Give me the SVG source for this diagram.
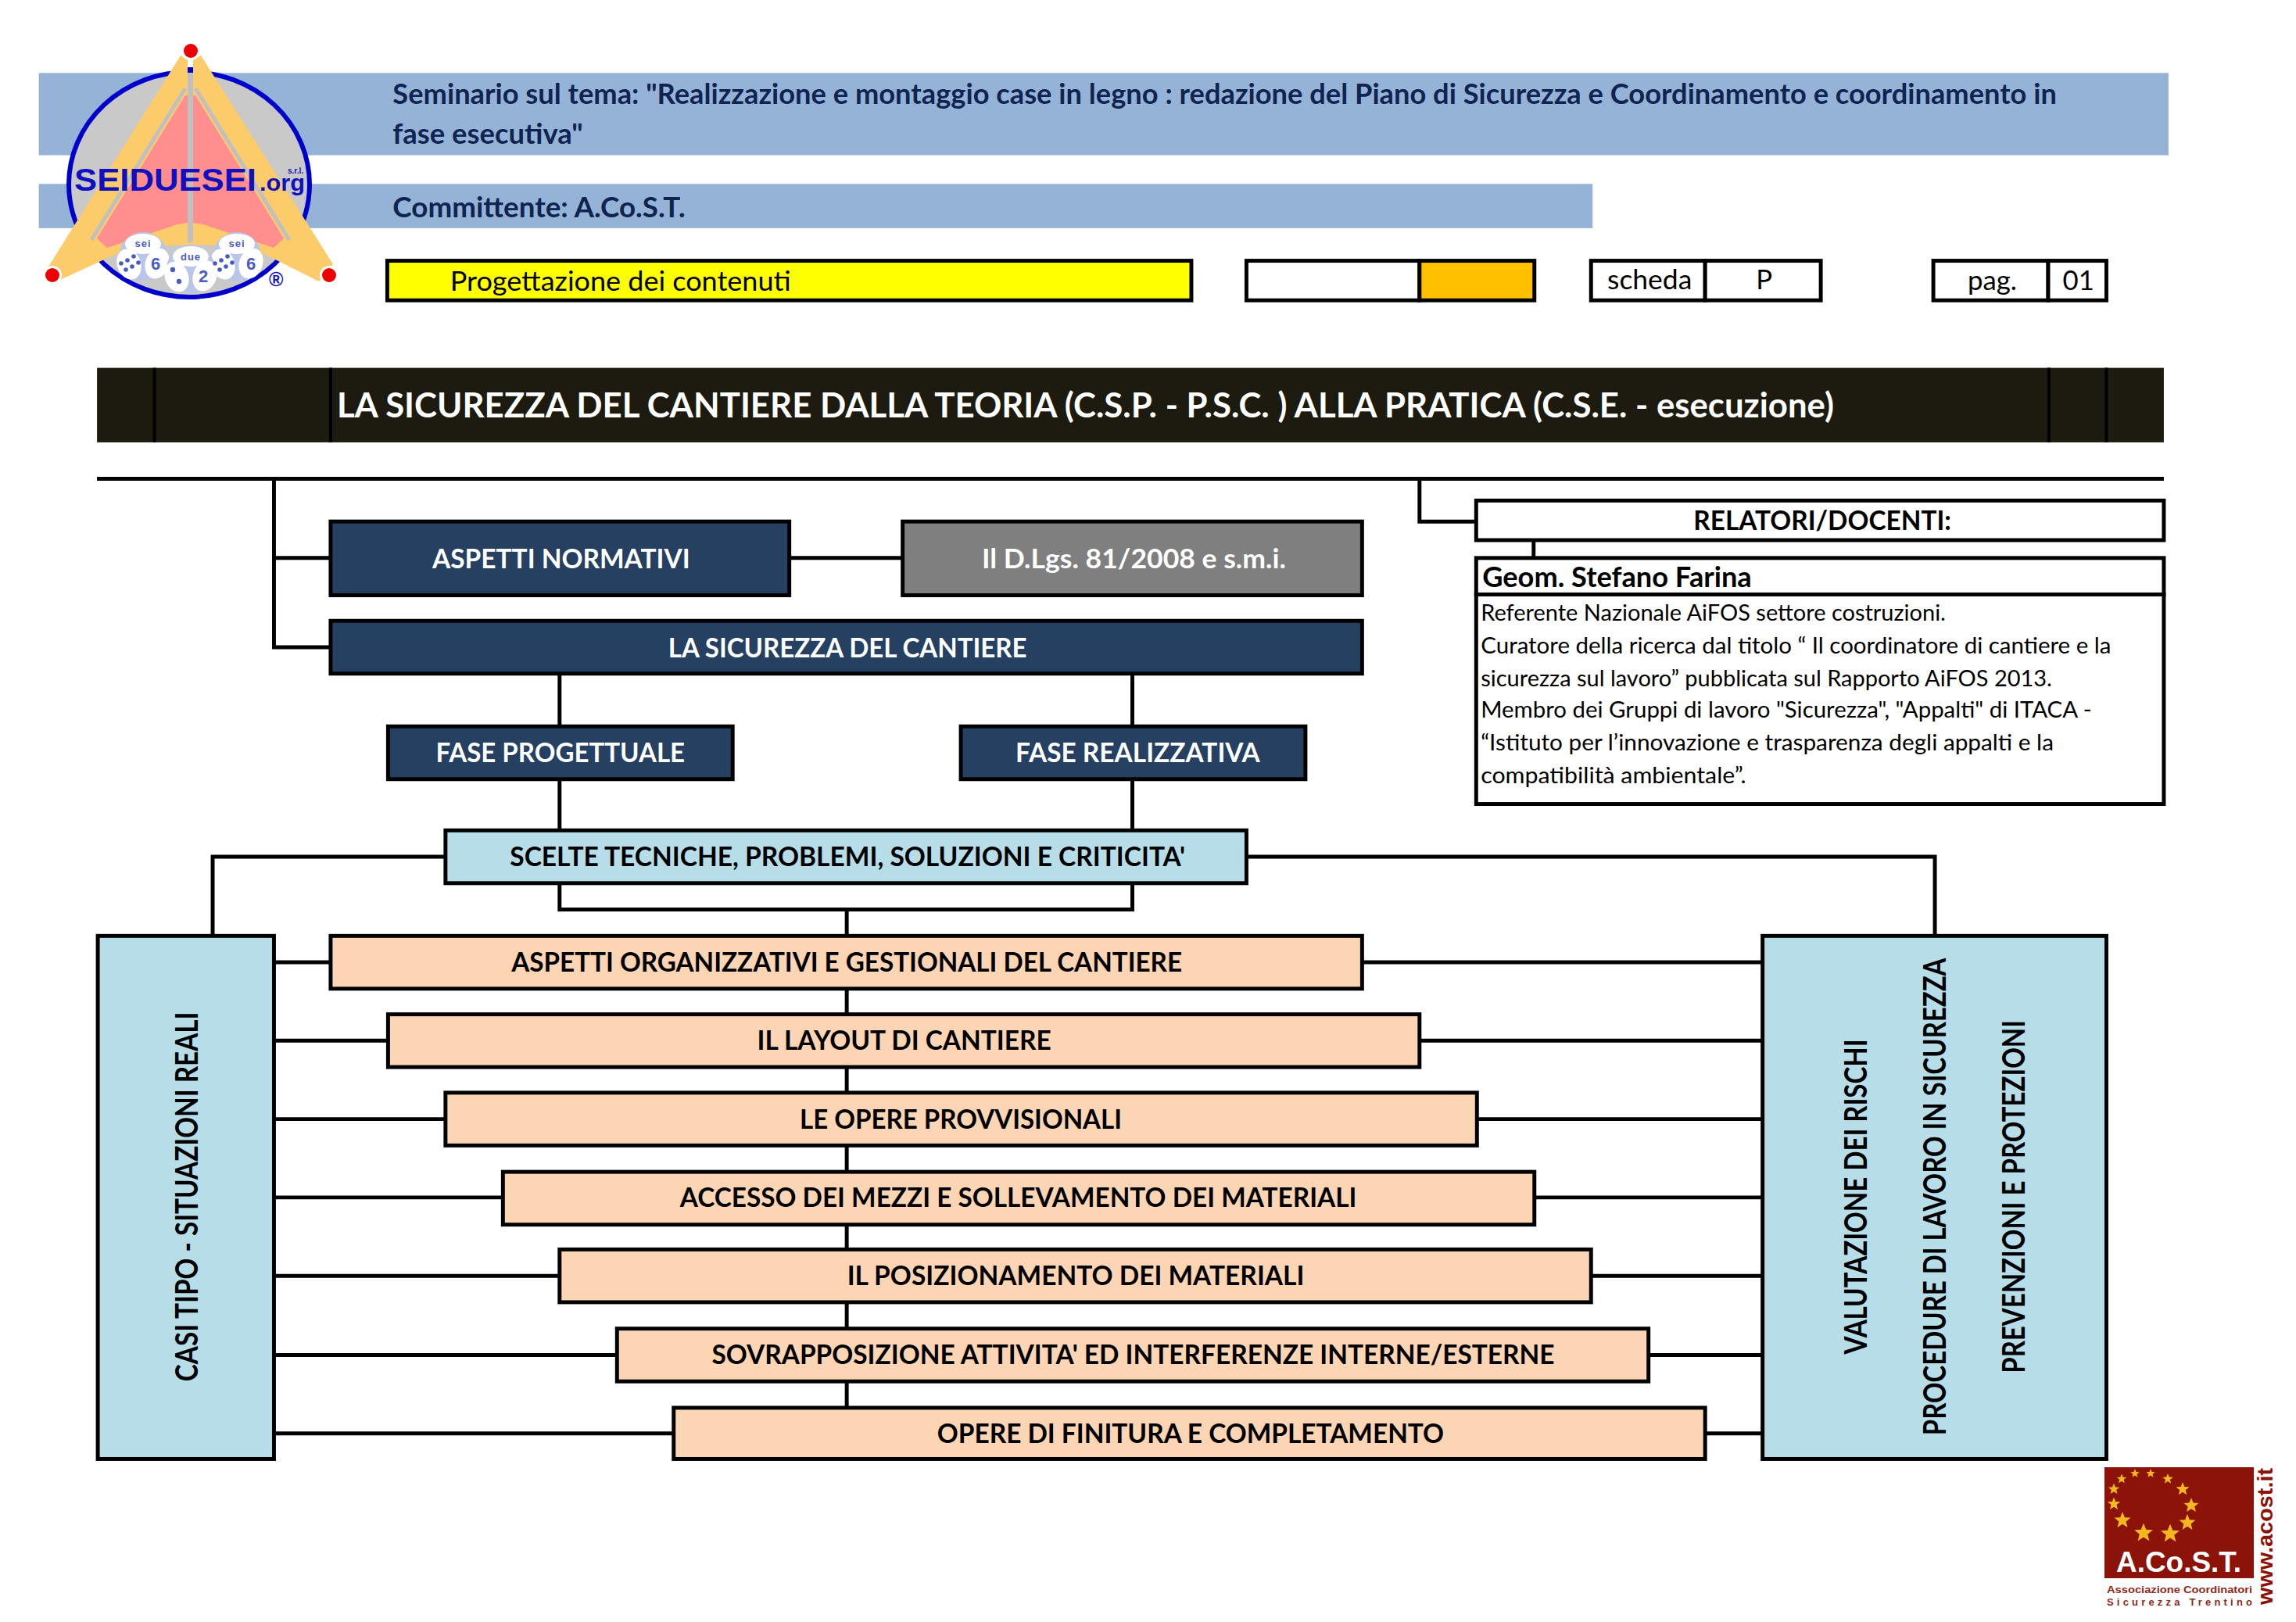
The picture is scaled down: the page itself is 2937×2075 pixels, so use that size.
<svg xmlns="http://www.w3.org/2000/svg" width="2937" height="2075" viewBox="0 0 2937 2075">
<style>
text{font-family:"Lato","Liberation Sans",sans-serif}
.b{stroke:#000;stroke-width:5}
.navy{fill:#254061}.gray{fill:#7f7f7f}.cy{fill:#b7dde8}.pe{fill:#fcd5b4}.wh{fill:#fff}
.band{fill:#95b3d7}
.t{font-size:35px;font-weight:700;text-anchor:middle}
.v{font-size:40px;font-weight:700;text-anchor:middle;fill:#000}
.w{fill:#fff}.k{fill:#000}
.h{font-size:37px;font-weight:700;fill:#0f2450}
.n{font-size:35px;fill:#000}
.p{font-size:29px;fill:#000}
.c{fill:none;stroke:#000;stroke-width:5}
.star{fill:#f5b71e}
.face{fill:#fff}
.pip{fill:#4a5cc0}
.lg{font-family:"Liberation Sans",sans-serif;font-weight:700;fill:#1010c0}
.dt{font-family:"Liberation Sans",sans-serif;font-weight:700;fill:#4a5cc0;text-anchor:middle}
.ac{font-family:"Liberation Sans",sans-serif;font-weight:700;fill:#8c2a20}
</style>
<defs>
<polygon id="st" points="0,-10 2.6,-3.4 9.5,-3.1 4.2,1.3 5.9,8.1 0,4.3 -5.9,8.1 -4.2,1.3 -9.5,-3.1 -2.6,-3.4"/>
<g id="die">
<circle cx="0" cy="16" r="31" fill="#b9c6ea"/>
<ellipse class="face" cx="0" cy="0" rx="23" ry="13"/>
<ellipse class="face" cx="-18" cy="26" rx="15" ry="20" transform="rotate(-20 -18 26)"/>
<ellipse class="face" cx="18" cy="25" rx="15" ry="20" transform="rotate(20 18 25)"/>
</g>
</defs>
<rect width="2937" height="2075" fill="#fff"/>

<g id="diagram-a" transform="scale(.9928)">
<g id="header">
<rect class="band" x="50" y="94" width="2744" height="106"/>
<rect class="band" x="50" y="237" width="2002" height="57"/>
<text class="h" x="506" y="134" textLength="2144" lengthAdjust="spacingAndGlyphs">Seminario sul tema: "Realizzazione e montaggio case in legno : redazione del Piano di Sicurezza e Coordinamento e coordinamento in</text>
<text class="h" x="506" y="185" textLength="245" lengthAdjust="spacingAndGlyphs">fase esecutiva"</text>
<text class="h" x="506" y="280" textLength="377" lengthAdjust="spacingAndGlyphs">Committente: A.Co.S.T.</text>
</g>
</g>

<g id="logo">
<ellipse cx="242" cy="236" rx="154" ry="144" fill="#c9c9c9" stroke="#0000cc" stroke-width="6"/>
<polygon points="231,71 240,77 240,110 247,110 247,77 257,71 426,338 408,360 320,316 244,313 168,316 77,358 62,341" fill="#fccb6a"/>
<path d="M237 113L117 307M250 113L370 307" stroke="#c0c0c0" stroke-width="5" fill="none"/>
<rect x="240" y="93" width="7" height="217" fill="#c0c0c0"/>
<rect x="240" y="86" width="7" height="7" fill="#0000cc"/>
<polygon points="240,122 237,122 124,305 137,317 227,287 240,285" fill="#ff8e8e"/>
<polygon points="247,122 250,122 363,305 350,317 260,287 247,285" fill="#ff8e8e"/>
<circle cx="244" cy="65" r="12" fill="#fff"/><circle cx="244" cy="65" r="9" fill="#ee0000"/>
<circle cx="67" cy="352" r="12" fill="#fff"/><circle cx="67" cy="352" r="9" fill="#ee0000"/>
<circle cx="421" cy="352" r="12" fill="#fff"/><circle cx="421" cy="352" r="9" fill="#ee0000"/>
<circle cx="244" cy="345" r="32" fill="#c9c9c9"/>
<use href="#die" x="183" y="312"/>
<use href="#die" x="303" y="312"/>
<use href="#die" x="244" y="328"/>
<g class="pip">
<circle cx="155" cy="337" r="2.8"/><circle cx="163" cy="333" r="2.8"/><circle cx="171" cy="328" r="2.8"/><circle cx="161" cy="345" r="2.8"/><circle cx="169" cy="341" r="2.8"/><circle cx="177" cy="336" r="2.8"/>
<circle cx="275" cy="337" r="2.8"/><circle cx="283" cy="333" r="2.8"/><circle cx="291" cy="328" r="2.8"/><circle cx="281" cy="345" r="2.8"/><circle cx="289" cy="341" r="2.8"/><circle cx="297" cy="336" r="2.8"/>
<circle cx="221" cy="345" r="3.2"/><circle cx="229" cy="360" r="3.2"/></g>
<text class="dt" x="183" y="316" font-size="13" letter-spacing="1">sei</text>
<text class="dt" x="303" y="316" font-size="13" letter-spacing="1">sei</text>
<text class="dt" x="244" y="333" font-size="13" letter-spacing="1">due</text>
<text class="dt" x="199" y="345" font-size="22">6</text>
<text class="dt" x="321" y="345" font-size="22">6</text>
<text class="dt" x="260" y="361" font-size="22">2</text>
<text class="lg" x="95" y="244" font-size="41" textLength="233" lengthAdjust="spacingAndGlyphs">SEIDUESEI</text>
<text class="lg" x="332" y="244" font-size="29" textLength="58" lengthAdjust="spacingAndGlyphs">.org</text>
<text class="lg" x="368" y="222" font-size="10">s.r.l.</text>
<text class="lg" x="344" y="366" font-size="25">®</text>
</g>

<g id="diagram-b" transform="scale(.9928)">
<g id="status">
<rect x="499" y="336" width="1036" height="51" fill="#ffff00" class="b"/>
<text class="n" x="580" y="375" textLength="439" lengthAdjust="spacingAndGlyphs">Progettazione dei contenuti</text>
<rect x="1606" y="336" width="223" height="51" class="wh b"/>
<rect x="1829" y="336" width="148" height="51" fill="#ffc000" class="b"/>
<rect x="2050" y="336" width="147" height="51" class="wh b"/>
<rect x="2197" y="336" width="149" height="51" class="wh b"/>
<text class="n" x="2071" y="373" textLength="109" lengthAdjust="spacingAndGlyphs">scheda</text>
<text class="n" x="2273" y="373" text-anchor="middle">P</text>
<rect x="2491" y="336" width="148" height="51" class="wh b"/>
<rect x="2639" y="336" width="75" height="51" class="wh b"/>
<text class="n" x="2567" y="374" text-anchor="middle">pag.</text>
<text class="n" x="2678" y="374" text-anchor="middle">01</text>
</g>

<g id="titlebar">
<rect x="125" y="474" width="2663" height="96" fill="#1d1b10"/>
<path d="M199 474V570M426 474V570M2640 474V570M2714 474V570" stroke="#000" stroke-width="4" fill="none"/>
<text x="434" y="538" font-size="44" font-weight="700" fill="#fff" textLength="1929" lengthAdjust="spacingAndGlyphs">LA SICUREZZA DEL CANTIERE DALLA TEORIA (C.S.P. - P.S.C. ) ALLA PRATICA (C.S.E. - esecuzione)</text>
</g>

<g id="connectors" class="c">
<path d="M125 617H2788"/>
<path d="M353 617V834H426M353 719H426"/>
<path d="M1017 719H1163"/>
<path d="M1829 617V672H1902"/>
<path d="M1976 696V719"/>
<path d="M721 868V936M1459 868V936"/>
<path d="M721 1004V1070M1459 1004V1070"/>
<path d="M721 1138V1172H1459V1138"/>
<path d="M1091 1172V1813"/>
<path d="M574 1104H274V1206"/>
<path d="M1606 1104H2493V1206"/>
<path d="M353 1240H426M1755 1240H2271"/>
<path d="M353 1341H500M1829 1341H2271"/>
<path d="M353 1442H574M1903 1442H2271"/>
<path d="M353 1543H648M1977 1543H2271"/>
<path d="M353 1644H721M2050 1644H2271"/>
<path d="M353 1746H795M2124 1746H2271"/>
<path d="M353 1847H868M2197 1847H2271"/>
</g>

<g id="aspetti-normativi"><rect class="navy b" x="426" y="672" width="591" height="95"/><text class="t w" x="723" y="732" textLength="332" lengthAdjust="spacingAndGlyphs">ASPETTI NORMATIVI</text></g>
<g id="dlgs"><rect class="gray b" x="1163" y="672" width="592" height="95"/><text class="t w" x="1461" y="732" textLength="392" lengthAdjust="spacingAndGlyphs">Il D.Lgs. 81/2008 e s.m.i.</text></g>
<g id="sicurezza"><rect class="navy b" x="426" y="800" width="1329" height="68"/><text class="t w" x="1092" y="847" textLength="462" lengthAdjust="spacingAndGlyphs">LA SICUREZZA DEL CANTIERE</text></g>
<g id="fase-prog"><rect class="navy b" x="500" y="936" width="444" height="68"/><text class="t w" x="722" y="982" textLength="321" lengthAdjust="spacingAndGlyphs">FASE PROGETTUALE</text></g>
<g id="fase-real"><rect class="navy b" x="1238" y="936" width="444" height="68"/><text class="t w" x="1466" y="982" textLength="315" lengthAdjust="spacingAndGlyphs">FASE REALIZZATIVA</text></g>
<g id="scelte"><rect class="cy b" x="574" y="1070" width="1032" height="68"/><text class="t k" x="1092" y="1116" textLength="870" lengthAdjust="spacingAndGlyphs">SCELTE TECNICHE, PROBLEMI, SOLUZIONI E CRITICITA'</text></g>

<g id="casi"><rect class="cy b" x="126" y="1206" width="227" height="674"/><text class="v" transform="translate(255,1542) rotate(-90)" textLength="476" lengthAdjust="spacingAndGlyphs">CASI TIPO - SITUAZIONI REALI</text></g>
<g id="valutazione"><rect class="cy b" x="2271" y="1206" width="443" height="674"/>
<text class="v" transform="translate(2405,1542) rotate(-90)" textLength="406" lengthAdjust="spacingAndGlyphs">VALUTAZIONE DEI RISCHI</text>
<text class="v" transform="translate(2507,1542) rotate(-90)" textLength="615" lengthAdjust="spacingAndGlyphs">PROCEDURE DI LAVORO IN SICUREZZA</text>
<text class="v" transform="translate(2609,1542) rotate(-90)" textLength="455" lengthAdjust="spacingAndGlyphs">PREVENZIONI E PROTEZIONI</text></g>

<g id="p1"><rect class="pe b" x="426" y="1206" width="1329" height="68"/><text class="t k" x="1091" y="1252" textLength="864" lengthAdjust="spacingAndGlyphs">ASPETTI ORGANIZZATIVI E GESTIONALI DEL CANTIERE</text></g>
<g id="p2"><rect class="pe b" x="500" y="1307" width="1329" height="68"/><text class="t k" x="1165" y="1353" textLength="379" lengthAdjust="spacingAndGlyphs">IL LAYOUT DI CANTIERE</text></g>
<g id="p3"><rect class="pe b" x="574" y="1408" width="1329" height="68"/><text class="t k" x="1238" y="1454" textLength="415" lengthAdjust="spacingAndGlyphs">LE OPERE PROVVISIONALI</text></g>
<g id="p4"><rect class="pe b" x="648" y="1510" width="1329" height="68"/><text class="t k" x="1312" y="1555" textLength="872" lengthAdjust="spacingAndGlyphs">ACCESSO DEI MEZZI E SOLLEVAMENTO DEI MATERIALI</text></g>
<g id="p5"><rect class="pe b" x="721" y="1610" width="1329" height="68"/><text class="t k" x="1386" y="1656" textLength="589" lengthAdjust="spacingAndGlyphs">IL POSIZIONAMENTO DEI MATERIALI</text></g>
<g id="p6"><rect class="pe b" x="795" y="1712" width="1329" height="68"/><text class="t k" x="1460" y="1758" textLength="1086" lengthAdjust="spacingAndGlyphs">SOVRAPPOSIZIONE ATTIVITA' ED INTERFERENZE INTERNE/ESTERNE</text></g>
<g id="p7"><rect class="pe b" x="868" y="1814" width="1329" height="66"/><text class="t k" x="1534" y="1859" textLength="653" lengthAdjust="spacingAndGlyphs">OPERE DI FINITURA E COMPLETAMENTO</text></g>

<g id="relatori"><rect class="wh b" x="1902" y="645" width="886" height="51"/><text class="t k" x="2348" y="683" textLength="332" lengthAdjust="spacingAndGlyphs">RELATORI/DOCENTI:</text></g>
<g id="docente">
<rect class="wh b" x="1902" y="719" width="886" height="47"/>
<rect class="wh b" x="1902" y="766" width="886" height="270"/>
<text x="1910" y="756" font-size="36" font-weight="700" textLength="347" lengthAdjust="spacingAndGlyphs">Geom. Stefano Farina</text>
<text class="p" x="1908" y="800" textLength="599" lengthAdjust="spacingAndGlyphs">Referente Nazionale AiFOS settore costruzioni.</text>
<text class="p" x="1908" y="842" textLength="812" lengthAdjust="spacingAndGlyphs">Curatore della ricerca dal titolo “ Il coordinatore di cantiere e la</text>
<text class="p" x="1908" y="884" textLength="736" lengthAdjust="spacingAndGlyphs">sicurezza sul lavoro” pubblicata sul Rapporto AiFOS 2013.</text>
<text class="p" x="1908" y="925" textLength="787" lengthAdjust="spacingAndGlyphs">Membro dei Gruppi di lavoro "Sicurezza", "Appalti" di ITACA -</text>
<text class="p" x="1908" y="967" textLength="738" lengthAdjust="spacingAndGlyphs">“Istituto per l’innovazione e trasparenza degli appalti e la</text>
<text class="p" x="1908" y="1009" textLength="342" lengthAdjust="spacingAndGlyphs">compatibilità ambientale”.</text>
</g>
</g>

<g id="acost">
<rect x="2692" y="1877" width="191" height="142" fill="#8c1309"/>
<g class="star">
<use href="#st" transform="translate(2731,1885) scale(.6)"/>
<use href="#st" transform="translate(2751,1885) scale(.6)"/>
<use href="#st" transform="translate(2773,1892) scale(.7)"/>
<use href="#st" transform="translate(2792,1905) scale(.9)"/>
<use href="#st" transform="translate(2803,1926) scale(1)"/>
<use href="#st" transform="translate(2798,1948) scale(1.1)"/>
<use href="#st" transform="translate(2776,1962) scale(1.25)"/>
<use href="#st" transform="translate(2742,1961) scale(1.25)"/>
<use href="#st" transform="translate(2715,1945) scale(1.1)"/>
<use href="#st" transform="translate(2704,1924) scale(.85)"/>
<use href="#st" transform="translate(2704,1905) scale(.75)"/>
<use href="#st" transform="translate(2714,1892) scale(.65)"/>
</g>
<text x="2707" y="2011" style="font-family:'Liberation Sans',sans-serif;font-weight:700" font-size="36" fill="#fff" textLength="160" lengthAdjust="spacingAndGlyphs">A.Co.S.T.</text>
<text class="ac" x="2695" y="2038" font-size="13" textLength="186" lengthAdjust="spacingAndGlyphs">Associazione Coordinatori</text>
<text class="ac" x="2695" y="2054" font-size="13" textLength="186" lengthAdjust="spacing">Sicurezza  Trentino</text>
<text class="ac" style="fill:#8c1309" transform="translate(2907,2053) rotate(-90)" font-size="28" textLength="175" lengthAdjust="spacingAndGlyphs">www.acost.it</text>
</g>
</svg>
